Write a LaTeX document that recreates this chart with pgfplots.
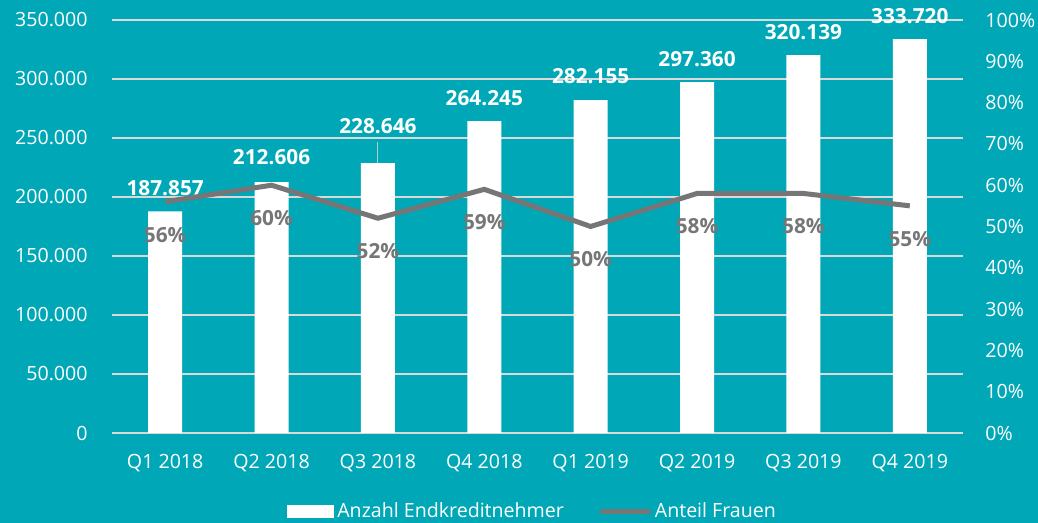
\documentclass[border=0pt]{standalone}
\usepackage{fontspec}
\setmainfont{Open Sans}
\usepackage{pgfplots}
\usepackage{pgfplotstable}
\pgfplotsset{compat=1.18}
\definecolor{bgteal}{HTML}{00A8B7}
\definecolor{gridgray}{HTML}{D9D9D9}
\definecolor{linegray}{HTML}{767676}

% quarter, borrowers, label, label lift (bp)
\pgfplotstableread{
x n lab dy
0 187857 187.857 11.5
1 212606 212.606 12.5
2 228646 228.646 18.5
3 264245 264.245 11.5
4 282155 282.155 12
5 297360 297.360 11.5
6 320139 320.139 11.5
7 333720 333.720 11.5
}\bars

% share of women
\pgfplotstableread{
x p lab
0 56 56\%
1 60 60\%
2 52 52\%
3 59 59\%
4 50 50\%
5 58 58\%
6 58 58\%
7 55 55\%
}\pct

\newcommand{\tickfont}{\fontsize{9.8bp}{11bp}\selectfont}
\newcommand{\labfont}{\fontsize{10.4bp}{12bp}\selectfont\bfseries}

\begin{document}
\begin{tikzpicture}
\fill[bgteal] (-56bp,-45bp) rectangle (463bp,216.5bp);

\begin{axis}[
    at={(0,0)}, anchor=south west,
    scale only axis, width=425.5bp, height=206.5bp,
    xmin=-0.5, xmax=7.5, ymin=0, ymax=350000,
    xtick={0,...,7},
    xticklabels={Q1 2018, Q2 2018, Q3 2018, Q4 2018, Q1 2019, Q2 2019, Q3 2019, Q4 2019},
    ytick={0,50000,...,350000},
    yticklabels={0, 50.000, 100.000, 150.000, 200.000, 250.000, 300.000, 350.000},
    axis line style={draw=none}, major tick length=0pt,
    ymajorgrids, grid style={draw=gridgray, line width=0.6bp},
    tick label style={font=\tickfont, text=white},
    yticklabel style={anchor=east, inner sep=0pt, xshift=-12bp},
    xticklabel style={anchor=center, inner sep=0pt, yshift=-15bp},
    scaled y ticks=false,
]
\addplot[ybar, bar width=17bp, fill=white, draw=none,
    point meta=explicit symbolic,
    visualization depends on={\thisrow{dy} \as \dy},
    nodes near coords,
    every node near coord/.append style={anchor=center, yshift=\dy bp, font=\labfont, text=white}
] table[x=x, y=n, meta=lab] {\bars};
% leader line of the moved label
\draw[gridgray!80!bgteal, line width=0.5bp] (axis cs:2,228646) -- ++(0pt,10.5bp);
\end{axis}

\begin{axis}[
    at={(0,0)}, anchor=south west,
    scale only axis, width=425.5bp, height=206.5bp,
    xmin=-0.5, xmax=7.5, ymin=0, ymax=100,
    hide x axis,
    ytick={0,10,...,100},
    yticklabels={0\%, 10\%, 20\%, 30\%, 40\%, 50\%, 60\%, 70\%, 80\%, 90\%, 100\%},
    axis line style={draw=none}, major tick length=0pt,
    tick label style={font=\tickfont, text=white},
    yticklabel style={anchor=west, inner sep=0pt, xshift=11bp},
    yticklabel pos=right,
    legend style={at={(0.495,-0.191)}, anchor=center, draw=none, fill=none,
        font=\tickfont, text=white, legend columns=2,
        /tikz/every even column/.append style={column sep=16bp}},
]
\addlegendimage{legend image code/.code={\fill[white] (0bp,-3bp) rectangle (23bp,3bp);}}
\addlegendentry{Anzahl Endkreditnehmer}
\addplot[linegray, line width=2.5bp, no markers,
    legend image code/.code={\draw[linegray, line width=2.5bp, line cap=round] (0bp,0bp) -- (23bp,0bp);},
    point meta=explicit symbolic,
    nodes near coords,
    every node near coord/.append style={anchor=center, yshift=-16.5bp, font=\labfont, text=linegray}
] table[x=x, y=p, meta=lab] {\pct};
\addlegendentry{Anteil Frauen}
\end{axis}

\pgfresetboundingbox
\useasboundingbox (-56bp,-45bp) rectangle (463bp,216.5bp);
\end{tikzpicture}
\end{document}
